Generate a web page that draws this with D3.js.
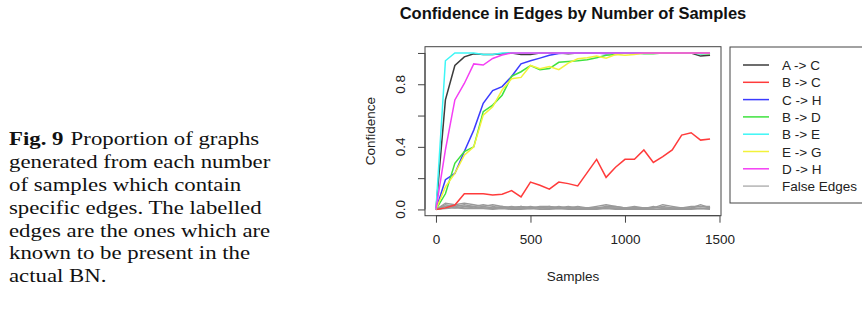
<!DOCTYPE html>
<html lang="en">
<head>
<meta charset="UTF-8">
<title>Confidence in Edges by Number of Samples</title>
<script src="https://cdn.jsdelivr.net/npm/d3@7"></script>
<style>
  body { margin: 0; background: #fff; }
  svg { display: block; }
</style>
</head>
<body>
<svg id="chart"></svg>
<script>
// samples on the x axis
var samples = [0, 50, 100, 150, 200, 250, 300, 350, 400, 450, 500, 550, 600, 650, 700,
  750, 800, 850, 900, 950, 1000, 1050, 1100, 1150, 1200, 1250, 1300, 1350, 1400, 1450];

// true edges
var edgeAC = [0, 0.70, 0.92, 0.975, 0.995, 0.99, 0.99, 0.995, 1, 0.99, 0.99, 1, 1, 1, 0.995,
  1, 1, 1, 1, 1, 1, 1, 1, 1, 1, 1, 1, 1, 0.98, 0.985];
var edgeBC = [0, 0.01, 0.028, 0.10, 0.10, 0.10, 0.093, 0.097, 0.12, 0.08, 0.175, 0.155, 0.13, 0.175, 0.165,
  0.15, 0.235, 0.32, 0.205, 0.27, 0.32, 0.32, 0.38, 0.30, 0.337, 0.38, 0.475, 0.49, 0.443, 0.45];
var edgeCH = [0, 0.19, 0.23, 0.37, 0.507, 0.678, 0.76, 0.785, 0.85, 0.93, 0.95, 0.967, 0.985, 0.997, 1,
  1, 1, 1, 0.995, 1, 1, 0.995, 1, 1, 1, 1, 1, 1, 1, 1];
var edgeBD = [0, 0.10, 0.295, 0.37, 0.40, 0.625, 0.667, 0.73, 0.85, 0.88, 0.92, 0.893, 0.90, 0.94, 0.946,
  0.95, 0.957, 0.97, 0.985, 0.99, 1, 1, 0.995, 0.995, 1, 1, 1, 1, 0.995, 0.995];
var edgeBE = [0, 0.95, 1, 1, 1, 0.99, 0.99, 1, 1, 1, 1, 1, 1, 1, 1,
  1, 1, 1, 1, 1, 1, 1, 1, 1, 1, 1, 1, 1, 0.995, 1];
var edgeEG = [0, 0.145, 0.23, 0.347, 0.40, 0.603, 0.656, 0.763, 0.835, 0.844, 0.92, 0.90, 0.914, 0.893, 0.935,
  0.963, 0.97, 0.98, 0.967, 0.99, 0.985, 0.99, 1, 1, 1, 1, 1, 1, 1, 1];
var edgeDH = [0, 0.38, 0.70, 0.805, 0.93, 0.923, 0.965, 0.987, 1, 1, 1, 1, 1, 1, 1,
  1, 1, 1, 1, 1, 1, 1, 1, 1, 1, 1, 1, 1, 1, 1];

// false edges, all hugging zero
var false1 = [0, 0.04, 0.03, 0.04, 0.03, 0.02, 0.03, 0.02, 0.01, 0.02, 0.01, 0.02, 0.02, 0.01, 0.02,
  0.01, 0.01, 0.01, 0.02, 0.02, 0.01, 0.01, 0.01, 0.01, 0.03, 0.02, 0.01, 0.01, 0.03, 0.01];
var false2 = [0, 0.03, 0.02, 0.03, 0.02, 0.03, 0.02, 0.01, 0.02, 0.01, 0.02, 0.01, 0.01, 0.02, 0.01,
  0.02, 0.01, 0.02, 0.03, 0.02, 0.01, 0.02, 0.01, 0.01, 0.02, 0.01, 0.01, 0.02, 0.02, 0.02];
var false3 = [0, 0.02, 0.03, 0.02, 0.02, 0.01, 0.01, 0.02, 0.01, 0.01, 0.01, 0.01, 0.02, 0.01, 0.01,
  0.01, 0.01, 0.01, 0.01, 0.01, 0.01, 0.01, 0.01, 0.01, 0.01, 0.01, 0.01, 0.01, 0.02, 0.01];
var false4 = [0, 0.02, 0.01, 0.02, 0.01, 0.02, 0.01, 0.01, 0.01, 0.02, 0.01, 0.01, 0.01, 0.01, 0.01,
  0.005, 0.01, 0.01, 0.01, 0.01, 0.005, 0.01, 0.005, 0.01, 0.01, 0.005, 0.01, 0.005, 0.01, 0.005];
var false5 = [0, 0.01, 0.02, 0.01, 0.01, 0.01, 0.005, 0.01, 0.005, 0.005, 0.005, 0.01, 0.005, 0.005, 0.005,
  0.005, 0.005, 0.005, 0.01, 0.005, 0.005, 0.005, 0.005, 0.02, 0.005, 0.005, 0.005, 0.005, 0.005, 0.005];
var false6 = [0, 0.005, 0.01, 0.005, 0.005, 0.005, 0, 0.005, 0, 0, 0.005, 0, 0, 0.005, 0,
  0, 0, 0, 0.005, 0, 0, 0, 0, 0, 0, 0, 0, 0, 0.005, 0];

var legendNames = ["A -> C", "B -> C", "C -> H", "B -> D", "B -> E", "E -> G", "D -> H", "False Edges"];
var legendColors = ["#3c3c3c", "#ff3b3b", "#3b3bff", "#3ee23e", "#3ef6f6", "#f2f23a", "#f43ef4", "#b4b4b4"];
var xTicks = [0, 500, 1000, 1500];
var yTicks = [0, 0.2, 0.4, 0.6, 0.8, 1.0];
var yLabels = [0, 0.4, 0.8];

var captionLines = [
  "Proportion of graphs",
  "generated from each number",
  "of samples which contain",
  "specific edges. The labelled",
  "edges are the ones which are",
  "known to be present in the",
  "actual BN."
];

var W = 862, H = 311;
var svg = d3.select("#chart").attr("width", W).attr("height", H);
svg.append("rect").attr("width", W).attr("height", H).attr("fill", "#fff");

var sans = "'Liberation Sans', Arial, Helvetica, sans-serif";
var serif = "'Liberation Serif', 'Times New Roman', Times, serif";

// caption on the left (the scan is a bit stretched sideways)
var cap = svg.append("g")
  .attr("transform", "translate(9,0) scale(1.2,1)")
  .style("font-family", serif).style("font-size", "19px").attr("fill", "#111");
captionLines.forEach(function (line, i) {
  var t = cap.append("text").attr("x", 0).attr("y", 145 + i * 22.9);
  if (i == 0) {
    t.append("tspan").style("font-weight", "bold").text("Fig. 9");
    t.append("tspan").attr("dx", 6).text(line);
  } else {
    t.text(line);
  }
});

// plot region (R style, 4% padding on each side)
var box = { left: 425, right: 721, top: 46.7, bottom: 215.7 };
var x = d3.scaleLinear().domain([-58, 1508]).range([box.left, box.right]);
var y = d3.scaleLinear().domain([-0.04, 1.04]).range([box.bottom, box.top]);

svg.append("text")
  .attr("x", (box.left + box.right) / 2).attr("y", 19)
  .attr("text-anchor", "middle")
  .style("font-family", sans).style("font-size", "16.5px").style("font-weight", "bold")
  .attr("fill", "#111")
  .text("Confidence in Edges by Number of Samples");

// x axis
var xAxis = svg.append("g")
  .attr("transform", "translate(0," + box.bottom + ")")
  .call(d3.axisBottom(x).tickValues(xTicks).tickSize(7).tickPadding(12).tickFormat(d3.format("d")));
xAxis.select(".domain").attr("d", "M" + x(0) + ",0H" + x(1500)).attr("stroke", "#444");
xAxis.selectAll(".tick line").attr("stroke", "#444");
xAxis.selectAll("text").style("font-family", sans).style("font-size", "13.5px").attr("fill", "#222");

// y axis
var yAxis = svg.append("g")
  .attr("transform", "translate(" + box.left + ",0)")
  .call(d3.axisLeft(y).tickValues(yTicks).tickSize(7).tickFormat(""));
yAxis.select(".domain").attr("d", "M0," + y(0) + "V" + y(1)).attr("stroke", "#444");
yAxis.selectAll(".tick line").attr("stroke", "#444");
yAxis.selectAll(".ylab")
  .data(yLabels)
  .enter()
  .append("text")
  .attr("transform", function (d) { return "translate(-20," + y(d) + ") rotate(-90)"; })
  .attr("text-anchor", "middle")
  .style("font-family", sans).style("font-size", "13.5px").attr("fill", "#222")
  .text(function (d) { return d3.format(".1f")(d); });

// box
svg.append("rect")
  .attr("x", box.left).attr("y", box.top)
  .attr("width", box.right - box.left).attr("height", box.bottom - box.top)
  .attr("fill", "none").attr("stroke", "#444").attr("stroke-width", 1);

// axis titles
svg.append("text")
  .attr("x", (box.left + box.right) / 2).attr("y", 281)
  .attr("text-anchor", "middle")
  .style("font-family", sans).style("font-size", "13.5px").attr("fill", "#222")
  .text("Samples");
svg.append("text")
  .attr("transform", "translate(375," + ((box.top + box.bottom) / 2) + ") rotate(-90)")
  .attr("text-anchor", "middle")
  .style("font-family", sans).style("font-size", "13.5px").attr("fill", "#222")
  .text("Confidence");

// lines
var line = d3.line()
  .x(function (d, i) { return x(samples[i]); })
  .y(function (d) { return y(d); });

var falseEdges = [false1, false2, false3, false4, false5, false6];
var trueEdges = [edgeAC, edgeBC, edgeCH, edgeBD, edgeBE, edgeEG, edgeDH];

var plot = svg.append("g");
plot.selectAll(".fe")
  .data(falseEdges)
  .enter()
  .append("path")
  .attr("class", "fe")
  .attr("d", line)
  .attr("fill", "none")
  .attr("stroke", "#9a9a9a")
  .attr("stroke-width", 1.3);

plot.selectAll(".te")
  .data(trueEdges)
  .enter()
  .append("path")
  .attr("class", "te")
  .attr("d", line)
  .attr("fill", "none")
  .attr("stroke", function (d, i) { return legendColors[i]; })
  .attr("stroke-width", 1.5);

// legend
var leg = svg.append("g");
leg.append("rect")
  .attr("x", 730).attr("y", 47).attr("width", 150).attr("height", 156)
  .attr("fill", "#fff").attr("stroke", "#444");
var rows = leg.selectAll(".row")
  .data(legendNames)
  .enter()
  .append("g")
  .attr("transform", function (d, i) { return "translate(0," + (65 + i * 17.3) + ")"; });
rows.append("line")
  .attr("x1", 743).attr("x2", 769)
  .attr("stroke", function (d, i) { return legendColors[i]; })
  .attr("stroke-width", 1.5);
rows.append("text")
  .attr("x", 782).attr("y", 5)
  .style("font-family", sans).style("font-size", "13.5px").attr("fill", "#222")
  .text(function (d) { return d; });
</script>
</body>
</html>
